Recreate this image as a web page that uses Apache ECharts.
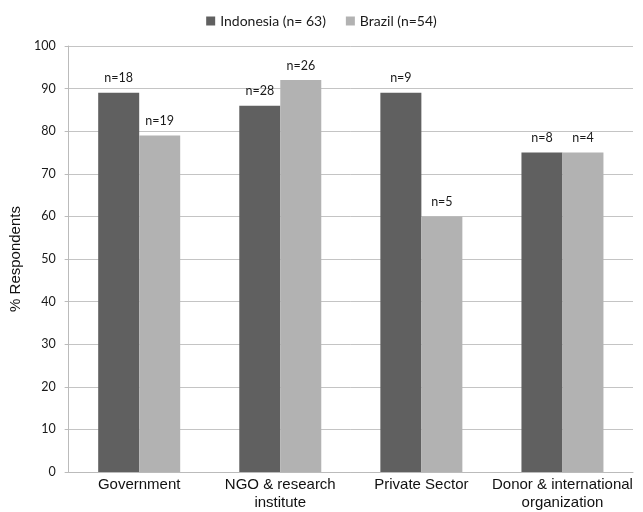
<!DOCTYPE html>
<html>
<head>
<meta charset="utf-8">
<script src="https://cdn.jsdelivr.net/npm/echarts@6/dist/echarts.min.js"></script>
<style>html,body{margin:0;padding:0;background:#fff}#c{width:643px;height:512px}</style>
</head>
<body>
<div id="c"></div>
<script>
const categories = ['Government', 'NGO & research\ninstitute', 'Private Sector', 'Donor & international\norganization'];
const seriesNames = ['Indonesia (n= 63)', 'Brazil (n=54)'];
const indonesiaValues = [89, 86, 89, 75];
const brazilValues = [79, 92, 60, 75];
const indonesiaN = [18, 28, 9, 8];
const brazilN = [19, 26, 5, 4];
const yTicks = { min: 0, max: 100, interval: 10 };

const chart = echarts.init(document.getElementById('c'), null, { renderer: 'canvas' });
const labelStyle = (ns) => ({
  show: true, position: 'top', distance: 8,
  fontFamily: 'Lato', fontSize: 12.5, color: '#1a1a1a',
  formatter: (p) => 'n=' + ns[p.dataIndex]
});
chart.setOption({
  animation: false,
  backgroundColor: '#fff',
  legend: {
    top: 9, left: 'center',
    itemWidth: 9, itemHeight: 9, itemGap: 20,
    icon: 'rect',
    textStyle: { fontFamily: 'Lato', fontSize: 14, color: '#1a1a1a' },
    data: seriesNames
  },
  grid: { left: 65, right: 10, top: 46, bottom: 39 },
  xAxis: {
    type: 'category', data: categories,
    axisLine: { lineStyle: { color: '#bbbbbb', width: 1 } },
    axisTick: { show: false },
    axisLabel: { fontFamily: 'Liberation Sans', fontSize: 15, color: '#111', lineHeight: 18, margin: 4, interval: 0 }
  },
  yAxis: {
    type: 'value', min: yTicks.min, max: yTicks.max, interval: yTicks.interval,
    name: '% Respondents', nameLocation: 'middle', nameGap: 45, nameRotate: 90,
    nameTextStyle: { fontFamily: 'Liberation Sans', fontSize: 15, color: '#111' },
    axisLine: { show: true, lineStyle: { color: '#bbbbbb' } },
    axisTick: { show: true, length: 4, lineStyle: { color: '#bbbbbb' } },
    axisLabel: { fontFamily: 'Lato', fontSize: 12.5, color: '#1a1a1a', margin: 13 },
    splitLine: { lineStyle: { color: '#c4c4c4', width: 1 } }
  },
  series: [
    { name: seriesNames[0], type: 'bar', data: indonesiaValues, barWidth: 41, barGap: '0%',
      itemStyle: { color: '#606060' }, label: labelStyle(indonesiaN) },
    { name: seriesNames[1], type: 'bar', data: brazilValues, barWidth: 41, barGap: '0%',
      itemStyle: { color: '#b2b2b2' }, label: labelStyle(brazilN) }
  ]
});
</script>
</body>
</html>
